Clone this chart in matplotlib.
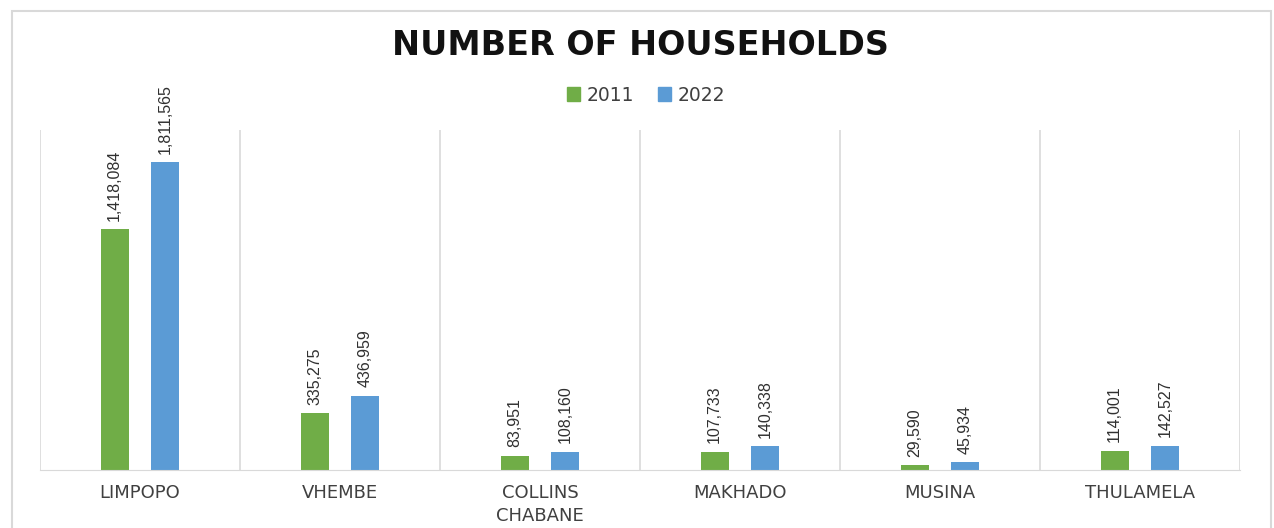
import matplotlib
matplotlib.use("Agg")
import matplotlib.pyplot as plt
from matplotlib.patches import Rectangle, Patch
import numpy as np

# data
districts = ["LIMPOPO", "VHEMBE", "COLLINS\nCHABANE", "MAKHADO", "MUSINA", "THULAMELA"]
hh_2011 = [1418084, 335275, 83951, 107733, 29590, 114001]
hh_2022 = [1811565, 436959, 108160, 140338, 45934, 142527]
years = ["2011", "2022"]

green = "#70AD47"
blue = "#5B9BD5"
grid_col = "#D9D9D9"
text_col = "#404040"

fig = plt.figure(figsize=(12.74, 5.28), dpi=100)
ax = fig.add_axes([0.0314, 0.1098, 0.9419, 0.644])

x = np.arange(len(districts))
w = 0.14
off = 0.127
b1 = ax.bar(x - off, hh_2011, w, color=green)
b2 = ax.bar(x + off, hh_2022, w, color=blue)

ax.set_xlim(-0.5, len(districts) - 0.5)
ax.set_ylim(0, 2000000)

# vertical separators between categories
for s in np.arange(-0.5, len(districts), 1.0):
    ax.axvline(s, color=grid_col, lw=1.2, zorder=0)

for sp in ["top", "left", "right"]:
    ax.spines[sp].set_visible(False)
ax.spines["bottom"].set_color(grid_col)
ax.set_yticks([])
ax.set_xticks(x)
ax.set_xticklabels(districts, fontsize=13, color=text_col, linespacing=1.35,
                   family="DejaVu Sans")
ax.tick_params(axis="x", length=0, pad=10)

lab_font = ["Liberation Sans", "DejaVu Sans"]
for bars in (b1, b2):
    for r in bars:
        h = r.get_height()
        ax.annotate(f"{int(h):,}", (r.get_x() + r.get_width() / 2, h),
                    xytext=(0, 6), textcoords="offset points",
                    rotation=90, ha="center", va="bottom",
                    fontsize=11.5, color="#303030", family=lab_font)

fig.text(0.503, 0.913, "NUMBER OF HOUSEHOLDS", ha="center", va="center",
         fontsize=24, fontweight="bold", color="#111111", family="DejaVu Sans")

handles = [Patch(color=green), Patch(color=blue)]
fig.legend(handles, years, loc="center", bbox_to_anchor=(0.507, 0.82), ncol=2,
           frameon=False, handlelength=0.7, handleheight=0.7,
           columnspacing=1.3, handletextpad=0.35, labelcolor=text_col,
           prop={"family": "DejaVu Sans", "size": 13.5})

# outer chart border
fig.patches.append(Rectangle((0.0094, -0.05), 0.988, 1.03, transform=fig.transFigure,
                             fill=False, edgecolor=grid_col, lw=1.5))

fig.savefig("out.png", dpi=100)
